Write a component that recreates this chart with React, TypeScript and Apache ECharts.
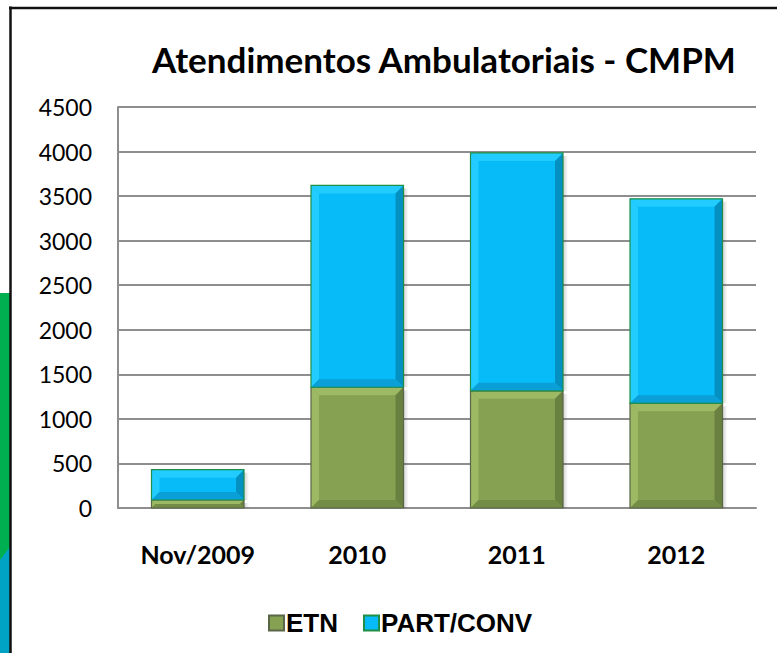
import React, { useEffect, useRef } from "react";
import * as echarts from "echarts";

const categories = ["Nov/2009", "2010", "2011", "2012"];
const etn = [90, 1355, 1315, 1175];
const partConv = [340, 2265, 2670, 2295];
const yTicks = { min: 0, max: 4500, interval: 500 };
const titleText = "Atendimentos Ambulatoriais - CMPM";

const greenPal = { main: "#87A152", light: "#9DB964", dark: "#6A8040", bottom: "#748D46", border: "#5A6648" };
const bluePal = { main: "#06BBF8", light: "#22CCFF", dark: "#0590C2", bottom: "#0A9FD6", border: "#1F8F45" };

function makeRender(pal: any) {
  return (params: any, api: any) => {
    const idx = api.value(0);
    const low = api.value(1);
    const high = api.value(2);
    const pTop = api.coord([idx, high]);
    const pBot = api.coord([idx, low]);
    const bw = api.size([1, 0])[0] * 0.58;
    const x0 = pTop[0] - bw / 2;
    const x1 = pTop[0] + bw / 2;
    const yT = pTop[1];
    const yB = pBot[1];
    const h = yB - yT;
    const b = Math.min(8, h / 2);
    return {
      type: "group",
      children: [
        {
          type: "rect",
          shape: { x: x1, y: yT + 3, width: 5, height: h - 3 },
          style: {
            fill: new echarts.graphic.LinearGradient(0, 0, 1, 0, [
              { offset: 0, color: "rgba(0,0,0,0.18)" },
              { offset: 1, color: "rgba(0,0,0,0)" },
            ]),
          },
        },
        { type: "rect", shape: { x: x0, y: yT, width: bw, height: h }, style: { fill: pal.main } },
        { type: "polygon", shape: { points: [[x0, yT], [x1, yT], [x1 - b, yT + b], [x0 + b, yT + b]] }, style: { fill: pal.light } },
        { type: "polygon", shape: { points: [[x0, yT], [x0 + b, yT + b], [x0 + b, yB - b], [x0, yB]] }, style: { fill: pal.light } },
        { type: "polygon", shape: { points: [[x1, yT], [x1, yB], [x1 - b, yB - b], [x1 - b, yT + b]] }, style: { fill: pal.dark } },
        { type: "polygon", shape: { points: [[x0, yB], [x0 + b, yB - b], [x1 - b, yB - b], [x1, yB]] }, style: { fill: pal.bottom } },
        { type: "rect", shape: { x: x0, y: yT, width: bw, height: h }, style: { fill: "none", stroke: pal.border, lineWidth: 1.2 } },
      ],
    };
  };
}

export default function App() {
  const ref = useRef<HTMLDivElement>(null);
  useEffect(() => {
    if (!ref.current) return;
    const chart = echarts.init(ref.current, null, { renderer: "svg" });
    const etnData = categories.map((_, i) => [i, 0, etn[i]]);
    const partData = categories.map((_, i) => [i, etn[i], etn[i] + partConv[i]]);
    chart.setOption({
      animation: false,
      backgroundColor: "#ffffff",
      title: {
        text: titleText,
        left: 147,
        top: 36,
        textStyle: { fontFamily: "Lato", fontWeight: "bold", fontSize: 35, color: "#000" },
      },
      legend: {
        left: 263,
        top: 605,
        itemWidth: 15,
        itemHeight: 15,
        itemGap: 25,
        icon: "rect",
        data: ["ETN", "PART/CONV"],
        textStyle: { fontFamily: "Liberation Sans", fontWeight: "bold", fontSize: 26, color: "#000", padding: [0, 0, 0, -3] },
      },
      grid: { left: 118, right: 21, top: 107, bottom: 145 },
      xAxis: {
        type: "category",
        data: categories,
        axisLine: { show: true, lineStyle: { color: "#8e8e8e", width: 2 } },
        axisTick: { show: false },
        axisLabel: { margin: 33, fontFamily: "Lato", fontWeight: "bold", fontSize: 25, color: "#000" },
      },
      yAxis: {
        type: "value",
        min: yTicks.min,
        max: yTicks.max,
        interval: yTicks.interval,
        axisLine: { show: true, lineStyle: { color: "#8e8e8e", width: 2 } },
        axisTick: { show: false },
        splitLine: { show: true, lineStyle: { color: "#8e8e8e", width: 2 } },
        axisLabel: { margin: 26, fontFamily: "Lato", fontSize: 23, color: "#000", formatter: (v: number) => String(v) },
      },
      series: [
        {
          name: "ETN",
          type: "custom",
          renderItem: makeRender(greenPal),
          encode: { x: 0, y: [1, 2] },
          itemStyle: { color: greenPal.main, borderColor: greenPal.border, borderWidth: 1.5 },
          data: etnData,
          z: 3,
        },
        {
          name: "PART/CONV",
          type: "custom",
          renderItem: makeRender(bluePal),
          encode: { x: 0, y: [1, 2] },
          itemStyle: { color: bluePal.main, borderColor: bluePal.border, borderWidth: 1.5 },
          data: partData,
          z: 3,
        },
      ],
      graphic: [
        { type: "rect", shape: { x: 0, y: 293, width: 10, height: 270 }, style: { fill: "#00B050" } },
        { type: "polygon", shape: { points: [[0, 560], [10, 547], [10, 653], [0, 653]] }, style: { fill: "#00A3C4" } },
        { type: "line", shape: { x1: 10.5, y1: 6.5, x2: 10.5, y2: 653 }, style: { stroke: "#111", lineWidth: 2.5 } },
        { type: "line", shape: { x1: 9, y1: 8, x2: 777, y2: 8 }, style: { stroke: "#111", lineWidth: 2.5 } },
      ],
    });
    return () => chart.dispose();
  }, []);
  return (
    <div
      ref={ref}
      style={{ position: "fixed", left: 0, top: 0, width: 777, height: 653 }}
    />
  );
}
